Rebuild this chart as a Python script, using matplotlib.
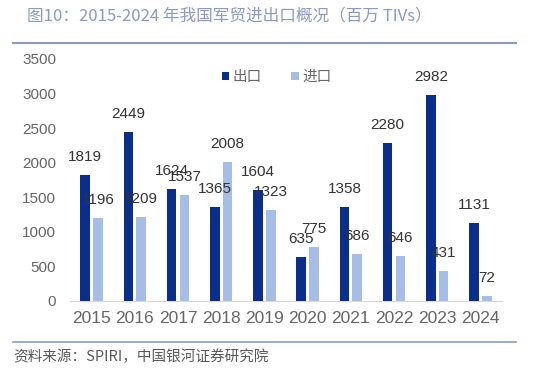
import matplotlib
matplotlib.use("Agg")
import matplotlib.pyplot as plt
from matplotlib.lines import Line2D
import numpy as np

plt.rcParams['font.family'] = ['Liberation Sans', 'Noto Sans CJK SC', 'DejaVu Sans']

years = ['2015', '2016', '2017', '2018', '2019', '2020', '2021', '2022', '2023', '2024']
exports = [1819, 2449, 1624, 1365, 1604, 635, 1358, 2280, 2982, 1131]
imports = [1196, 1209, 1537, 2008, 1323, 775, 686, 646, 431, 72]
series_names = ['出口', '进口']
title = '图10：2015-2024 年我国军贸进出口概况（百万 TIVs）'
source = '资料来源：SPIRI，中国银河证券研究院'

W, H = 536, 374
fig = plt.figure(figsize=(W / 100, H / 100), dpi=100)

ax_left, ax_right = 70 / W, 502 / W
ax_bottom, ax_top = 1 - 301 / H, 1 - 59 / H
ax = fig.add_axes([ax_left, ax_bottom, ax_right - ax_left, ax_top - ax_bottom])

x = np.arange(len(years))
w = 0.22
off = 0.147
c_exp = '#0b2e8a'
c_imp = '#a6bde6'
b1 = ax.bar(x - off, exports, w, color=c_exp, label=series_names[0], zorder=3)
b2 = ax.bar(x + off, imports, w, color=c_imp, label=series_names[1], zorder=3)

for bars, vals in ((b1, exports), (b2, imports)):
    for r, v in zip(bars, vals):
        ax.annotate(str(v), (r.get_x() + r.get_width() / 2, v), xytext=(0, 11),
                    textcoords='offset pixels', ha='center', va='bottom',
                    fontsize=11, color='#333333', zorder=4)

ax.set_xlim(-0.5, len(years) - 0.5)
ax.set_ylim(0, 3500)
ax.set_yticks(np.arange(0, 3501, 500))
ax.set_xticks(x)
ax.set_xticklabels(years)
for s in ['top', 'right', 'left']:
    ax.spines[s].set_visible(False)
ax.spines['bottom'].set_color('#d9d9d9')
ax.tick_params(axis='both', length=0, labelcolor='#666666')
ax.tick_params(axis='y', pad=10, labelsize=11)
ax.tick_params(axis='x', pad=7, labelsize=12.5)

leg = ax.legend(loc='center left', ncol=2, frameon=False, fontsize=10.5,
                handlelength=0.5, handleheight=0.5, handletextpad=0.25, columnspacing=2.0,
                borderpad=0, borderaxespad=0)
leg.set_bbox_to_anchor((222 / W, 1 - 77 / H), transform=fig.transFigure)
for t in leg.get_texts():
    t.set_color('#666666')

fig.text(27 / W, 1 - 16 / H, title, fontsize=12, color='#8a9ac2', va='center', ha='left',
         family=['Noto Sans CJK SC', 'DejaVu Sans'])
fig.add_artist(Line2D([13 / W, 516 / W], [1 - 43 / H, 1 - 43 / H], color='#8c9cc0', lw=1.5,
                      transform=fig.transFigure))
fig.add_artist(Line2D([13 / W, 516 / W], [1 - 342 / H, 1 - 342 / H], color='#8c9cc0', lw=1.2,
                      transform=fig.transFigure))
fig.text(13 / W, 1 - 357 / H, source, fontsize=10.5, color='#595959', va='center', ha='left',
         style='italic', family=['Noto Sans CJK SC', 'DejaVu Sans'])

fig.savefig('out.png', dpi=100)
